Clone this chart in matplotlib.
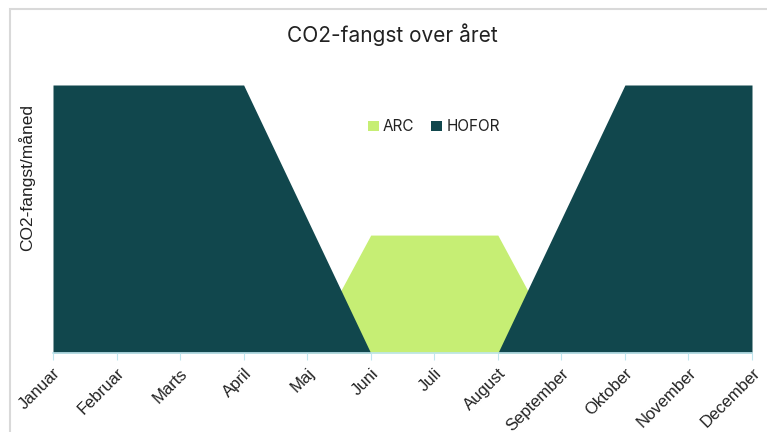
import matplotlib.pyplot as plt
from matplotlib.patches import Rectangle

# --- data ---
months = ["Januar", "Februar", "Marts", "April", "Maj", "Juni", "Juli",
          "August", "September", "Oktober", "November", "December"]
arc = [0, 0, 0, 0, 0, 44, 44, 44, 0, 0, 0, 0]
hofor = [100, 100, 100, 100, 50, 0, 0, 0, 50, 100, 100, 100]

ARC_COLOR = "#C6EE74"
HOFOR_COLOR = "#11474D"

fig = plt.figure(figsize=(7.67, 4.32), dpi=100)
ax = fig.add_axes([53 / 767, 1 - 353 / 432, 699 / 767, 268 / 432])

x = list(range(len(months)))
ax.fill_between(x, arc, color=ARC_COLOR, label="ARC", linewidth=0)
ax.fill_between(x, hofor, color=HOFOR_COLOR, label="HOFOR", linewidth=0)

ax.set_xlim(0, len(months) - 1)
ax.set_ylim(0, 100)
ax.set_yticks([])
ax.set_xticks(x)
ax.set_xticklabels(months, rotation=45, ha="right", rotation_mode="anchor",
                   fontsize=12, family="Liberation Sans", color="#222222")
ax.tick_params(axis="x", length=5, color="#BFE6EE", pad=4)

for s in ["top", "right", "left"]:
    ax.spines[s].set_visible(False)
ax.spines["bottom"].set_color("#BFE6EE")
ax.spines["bottom"].set_linewidth(1.2)

# y label sits above the axis centre in the reference
fig.text(27 / 767, 1 - 178 / 432, "CO2-fangst/måned", rotation=90,
         ha="center", va="center", fontsize=12.5, family="Liberation Sans",
         color="#222222")

leg = ax.legend(loc="center", ncol=2, frameon=False, handlelength=0.7,
                handleheight=0.7, handletextpad=0.3, columnspacing=1.1,
                prop={"family": "Inter", "size": 11})
leg.set_bbox_to_anchor((434 / 767, 1 - 127 / 432), transform=fig.transFigure)
for t in leg.get_texts():
    t.set_color("#222222")

fig.text(392 / 767, 1 - 35 / 432, "CO2-fangst over året", ha="center",
         va="center", fontsize=15, family="Inter", color="#222222")

# light frame around the chart area
fig.patches.append(Rectangle((10 / 767, -0.05), 1.0, 1 - 9 / 432 + 0.05,
                             transform=fig.transFigure, fill=False,
                             edgecolor="#D9D9D9", linewidth=1.5))

fig.savefig("out.png", dpi=100)
